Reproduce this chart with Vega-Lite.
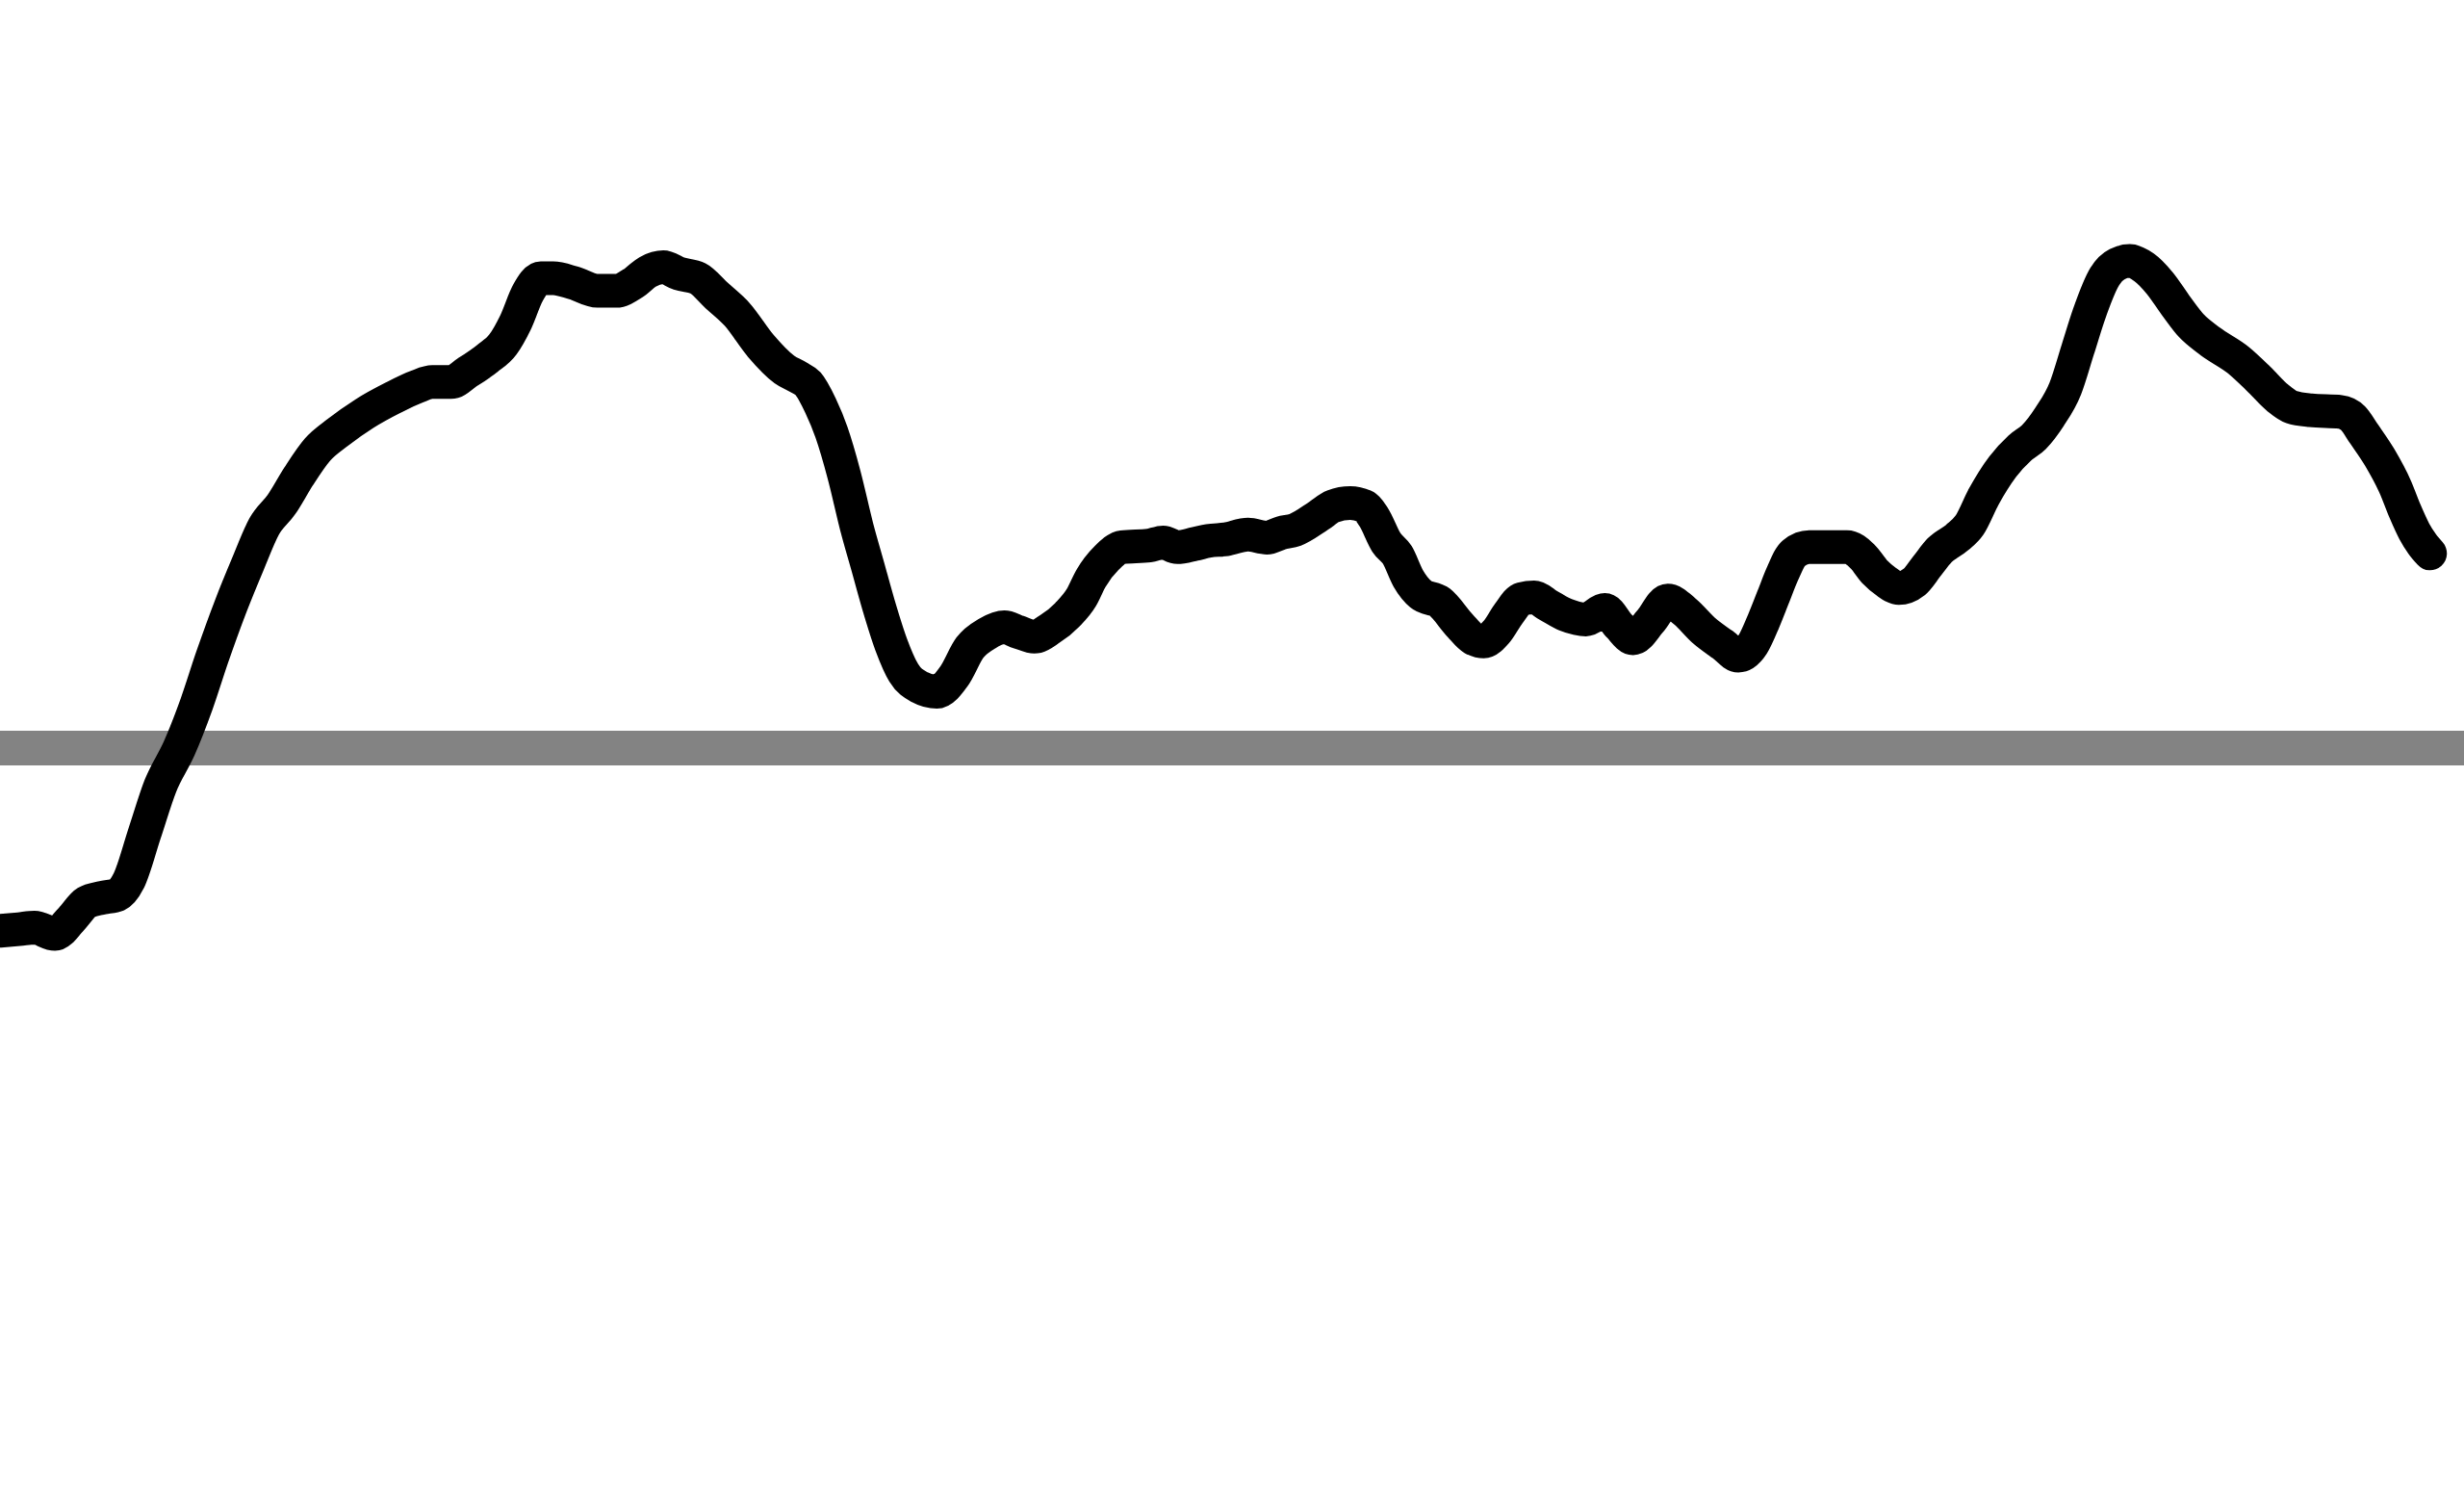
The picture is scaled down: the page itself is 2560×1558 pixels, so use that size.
{
  "$schema": "https://vega.github.io/schema/vega-lite/v6.json",
  "width": 2560,
  "height": 1558,
  "padding": 0,
  "autosize": {"type": "none"},
  "background": "#ffffff",
  "data": {
    "values": [
      {"t": 0, "v": -116.2}, {"t": 12, "v": -115.2}, {"t": 22, "v": -114.2}, {"t": 35, "v": -118.2},
      {"t": 45, "v": -109.2}, {"t": 55, "v": -98.2}, {"t": 65, "v": -95.2}, {"t": 75, "v": -93.2},
      {"t": 82, "v": -84.2}, {"t": 92, "v": -54.2}, {"t": 102, "v": -24.2}, {"t": 114, "v": -0.2},
      {"t": 125, "v": 27.8}, {"t": 135, "v": 57.8}, {"t": 147, "v": 90.8}, {"t": 158, "v": 117.8},
      {"t": 168, "v": 140.8}, {"t": 179, "v": 154.8}, {"t": 190, "v": 172.8}, {"t": 202, "v": 189.8},
      {"t": 215, "v": 200.8}, {"t": 232, "v": 212.8}, {"t": 250, "v": 222.8}, {"t": 265, "v": 229.8},
      {"t": 275, "v": 232.8}, {"t": 287, "v": 232.8}, {"t": 297, "v": 238.8}, {"t": 310, "v": 247.8},
      {"t": 320, "v": 256.8}, {"t": 328, "v": 270.8}, {"t": 336, "v": 289.8}, {"t": 344, "v": 298.8},
      {"t": 352, "v": 298.8}, {"t": 365, "v": 295.8}, {"t": 380, "v": 290.8}, {"t": 392, "v": 290.8},
      {"t": 403, "v": 295.8}, {"t": 412, "v": 302.8}, {"t": 422, "v": 305.8}, {"t": 432, "v": 301.8},
      {"t": 444, "v": 298.8}, {"t": 456, "v": 287.8}, {"t": 469, "v": 275.8}, {"t": 484, "v": 255.8},
      {"t": 499, "v": 240.8}, {"t": 508, "v": 235.8}, {"t": 514, "v": 231.8}, {"t": 522, "v": 217.8},
      {"t": 529, "v": 200.8}, {"t": 537, "v": 173.8}, {"t": 545, "v": 140.8}, {"t": 552, "v": 115.8},
      {"t": 559, "v": 90.8}, {"t": 567, "v": 65.8}, {"t": 575, "v": 47.8}, {"t": 585, "v": 38.8},
      {"t": 596, "v": 35.8}, {"t": 607, "v": 45.8}, {"t": 617, "v": 63.8}, {"t": 628, "v": 72.8},
      {"t": 639, "v": 76.8}, {"t": 648, "v": 73.8}, {"t": 658, "v": 70.8}, {"t": 668, "v": 75.8},
      {"t": 679, "v": 84.8}, {"t": 688, "v": 95.8}, {"t": 694, "v": 107.8}, {"t": 704, "v": 120.8},
      {"t": 714, "v": 127.8}, {"t": 731, "v": 128.8}, {"t": 740, "v": 130.8}, {"t": 749, "v": 127.8},
      {"t": 760, "v": 129.8}, {"t": 769, "v": 131.8}, {"t": 780, "v": 132.8}, {"t": 794, "v": 135.8},
      {"t": 806, "v": 133.8}, {"t": 815, "v": 136.8}, {"t": 824, "v": 138.8}, {"t": 839, "v": 147.8},
      {"t": 848, "v": 153.8}, {"t": 859, "v": 155.8}, {"t": 868, "v": 153.8}, {"t": 874, "v": 146.8},
      {"t": 882, "v": 130.8}, {"t": 889, "v": 122.8}, {"t": 896, "v": 107.8}, {"t": 904, "v": 97.8},
      {"t": 916, "v": 92.8}, {"t": 929, "v": 77.8}, {"t": 937, "v": 69.8}, {"t": 944, "v": 67.8},
      {"t": 952, "v": 73.8}, {"t": 960, "v": 85.8}, {"t": 968, "v": 94.8}, {"t": 976, "v": 95.8},
      {"t": 985, "v": 90.8}, {"t": 996, "v": 84.8}, {"t": 1009, "v": 81.8}, {"t": 1021, "v": 87.8},
      {"t": 1030, "v": 77.8}, {"t": 1039, "v": 69.8}, {"t": 1050, "v": 80.8}, {"t": 1061, "v": 93.8},
      {"t": 1072, "v": 86.8}, {"t": 1084, "v": 74.8}, {"t": 1096, "v": 65.8}, {"t": 1106, "v": 58.8},
      {"t": 1115, "v": 65.8}, {"t": 1122, "v": 80.8}, {"t": 1128, "v": 95.8}, {"t": 1134, "v": 110.8},
      {"t": 1141, "v": 123.8}, {"t": 1151, "v": 127.8}, {"t": 1164, "v": 127.8}, {"t": 1175, "v": 127.8},
      {"t": 1185, "v": 121.8}, {"t": 1193, "v": 111.8}, {"t": 1200, "v": 105.8}, {"t": 1208, "v": 101.8},
      {"t": 1218, "v": 105.8}, {"t": 1226, "v": 115.8}, {"t": 1234, "v": 125.8}, {"t": 1245, "v": 133.8},
      {"t": 1253, "v": 141.8}, {"t": 1262, "v": 159.8}, {"t": 1274, "v": 178.8}, {"t": 1285, "v": 190.8},
      {"t": 1294, "v": 197.8}, {"t": 1304, "v": 210.8}, {"t": 1314, "v": 228.8}, {"t": 1322, "v": 253.8},
      {"t": 1329, "v": 275.8}, {"t": 1339, "v": 299.8}, {"t": 1347, "v": 307.8}, {"t": 1355, "v": 309.8},
      {"t": 1364, "v": 305.8}, {"t": 1374, "v": 295.8}, {"t": 1384, "v": 281.8}, {"t": 1394, "v": 268.8},
      {"t": 1406, "v": 258.8}, {"t": 1424, "v": 246.8}, {"t": 1437, "v": 234.8}, {"t": 1449, "v": 222.8},
      {"t": 1458, "v": 216.8}, {"t": 1470, "v": 214.8}, {"t": 1489, "v": 213.8}, {"t": 1497, "v": 209.8},
      {"t": 1504, "v": 199.8}, {"t": 1514, "v": 184.8}, {"t": 1524, "v": 165.8}, {"t": 1530, "v": 150.8},
      {"t": 1536, "v": 137.8}, {"t": 1541, "v": 129.8}, {"t": 1546, "v": 123.8}
    ]
  },
  "encoding": {
    "x": {"field": "t", "type": "quantitative", "axis": null, "scale": {"domain": [0, 1567.6], "nice": false, "zero": false}},
    "y": {"field": "v", "type": "quantitative", "axis": null, "scale": {"domain": [-478.27, 475.8], "nice": false, "zero": false}}
  },
  "layer": [
    {
      "mark": {"type": "rule", "color": "#838383", "strokeWidth": 36},
      "encoding": {
        "x": {"value": 0},
        "x2": {"value": 2560},
        "y": {"datum": 0}
      }
    },
    {
      "mark": {
        "type": "line",
        "color": "#000000",
        "strokeWidth": 35,
        "strokeCap": "round",
        "strokeJoin": "round",
        "interpolate": "monotone"
      }
    }
  ],
  "config": {
    "view": {"stroke": null}
  }
}
